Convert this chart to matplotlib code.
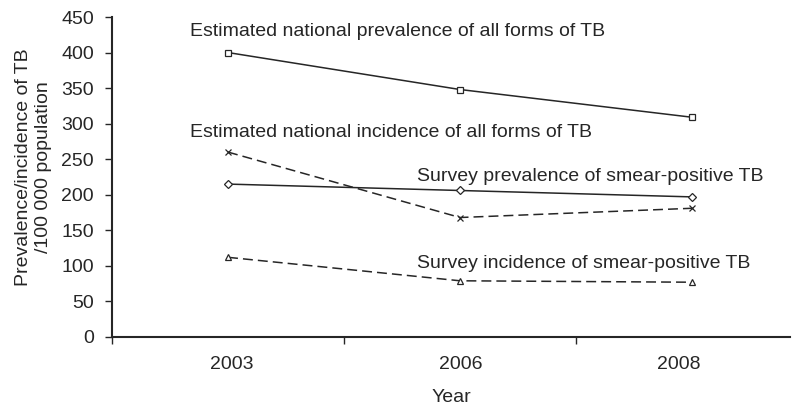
import matplotlib.pyplot as plt

plt.rcParams['font.family'] = ['Liberation Sans', 'DejaVu Sans']

years = ['2003', '2006', '2008']
est_prevalence = [400, 348, 309]
est_incidence = [260, 168, 181]
survey_prevalence = [215, 206, 197]
survey_incidence = [112, 79, 77]

ink = '#262626'
fs = 14
x = range(len(years))

fig = plt.figure(figsize=(7.98, 4.05), dpi=100)
ax = fig.add_axes([0.1404, 0.168, 0.8496, 0.79])

dash = (0, (6.5, 3.3))
common = dict(color=ink, lw=1.1, markersize=4.6, markerfacecolor='white', markeredgecolor=ink,
              markeredgewidth=0.9)
ax.plot(x, est_prevalence, marker='s', linestyle='-', **common)
ax.plot(x, est_incidence, marker='x', linestyle=dash, **common)
ax.plot(x, survey_prevalence, marker='D', linestyle='-', **{**common, 'markersize': 4.3})
ax.plot(x, survey_incidence, marker='^', linestyle=dash, **{**common, 'markersize': 5})

# series labels
label_style = dict(fontsize=fs, color=ink, va='baseline', ha='left')
ax.text(-0.164, 423, 'Estimated national prevalence of all forms of TB', **label_style)
ax.text(-0.164, 281, 'Estimated national incidence of all forms of TB', **label_style)
ax.text(0.815, 219, 'Survey prevalence of smear-positive TB', **label_style)
ax.text(0.815, 97, 'Survey incidence of smear-positive TB', **label_style)

ax.set_xlim(-0.5, 2.422)
ax.set_ylim(0, 450)
ax.set_yticks(range(0, 451, 50))

# boundary ticks between categories, labels sit near the centres
ax.set_xticks([-0.5, 0.5, 1.5])
ax.set_xticklabels([])
ax.set_xticks([0.017, 1.004, 1.944], minor=True)
ax.set_xticklabels(years, minor=True)
ax.tick_params(axis='x', which='minor', length=0, pad=14, labelsize=fs, labelcolor=ink)
ax.tick_params(axis='both', which='major', length=5, width=1, color=ink, labelsize=fs,
               labelcolor=ink)
ax.tick_params(axis='y', pad=8)

for side in ['top', 'right']:
    ax.spines[side].set_visible(False)
for side in ['left', 'bottom']:
    ax.spines[side].set_linewidth(1.5)
    ax.spines[side].set_color(ink)

ax.set_xlabel('Year', fontsize=fs, color=ink, labelpad=11)
ax.set_ylabel('Prevalence/incidence of TB\n/100 000 population', fontsize=fs, color=ink,
              linespacing=1.3)
ax.yaxis.set_label_coords(-0.1158, 0.531)
ax.yaxis.label.set_verticalalignment('center')

fig.savefig('out.png', dpi=100)
